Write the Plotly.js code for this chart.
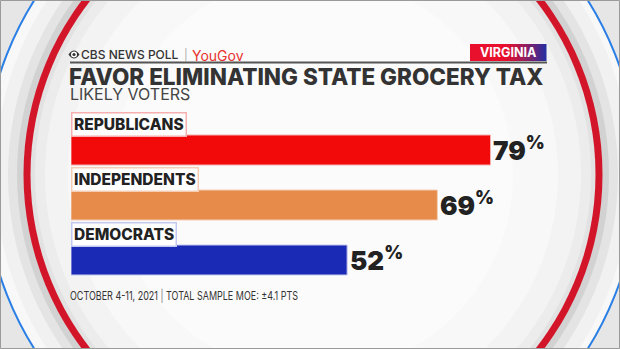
<!DOCTYPE html>
<html>
<head>
<meta charset="utf-8">
<script src="https://cdn.plot.ly/plotly-3.0.1.min.js"></script>
<style>
html,body{margin:0;padding:0;background:#fff;}
#chart{width:620px;height:349px;}
</style>
</head>
<body>
<div id="chart"></div>
<script>
// ---- data ----
const categories = ["REPUBLICANS", "INDEPENDENTS", "DEMOCRATS"];
const values = [79, 69, 52];
const barColors = ["#f20a0a", "#e68b4a", "#1a2ab5"];
const edgeColors = ["#f6b0b0", "#f4cdb5", "#c3c8f0"];
const title = "FAVOR ELIMINATING STATE GROCERY TAX";
const subtitle = "LIKELY VOTERS";
const footerDate = "OCTOBER 4-11, 2021";
const footerMoe = "TOTAL SAMPLE MOE: ±4.1 PTS";
const stateLabel = "VIRGINIA";

// ---- helpers: pixel -> paper ----
const W = 620, H = 349;
const px = x => x / W;
const py = y => 1 - y / H;

const shapes = [];
function circle(cx, cy, r, fill, lineColor, lineWidth) {
  shapes.push({type: "circle", xref: "paper", yref: "paper", layer: "below",
    x0: px(cx - r), x1: px(cx + r), y0: py(cy + r), y1: py(cy - r),
    fillcolor: fill, line: {color: lineColor || "rgba(0,0,0,0)", width: lineWidth || 0}});
}
function rect(x0, y0, x1, y1, fill, lineColor, lineWidth, layer) {
  shapes.push({type: "rect", xref: "paper", yref: "paper", layer: layer || "below",
    x0: px(x0), x1: px(x1), y0: py(y1), y1: py(y0),
    fillcolor: fill, line: {color: lineColor || "rgba(0,0,0,0)", width: lineWidth || 0}});
}

// background rings
rect(0, 0, W, H, "#e6e6e6");
circle(311, 174.5, 327, "#f8f8f8", "#2a7fe6", 2);
circle(313, 174.5, 318, "#f1f1f1");
circle(313, 174.5, 305, "#e4e4e4");
circle(313, 174.5, 296, "#d2d2d2");
circle(313, 174.5, 289.5, "#d3152a");
circle(313, 174.5, 282.5, "#e2e2e2");
circle(313, 174.5, 278, "#ececec");
circle(313, 174.5, 268, "#f3f3f3");
circle(313, 174.5, 245, "#f8f8f8");
circle(313, 174.5, 200, "#fbfbfb");

// header rule
shapes.push({type: "line", xref: "paper", yref: "paper", layer: "above",
  x0: px(70), x1: px(547), y0: py(62.5), y1: py(62.5), line: {color: "#555", width: 2}});

// state label gradient box (red -> blue)
function mix(a, b, t) {
  const pa = [parseInt(a.slice(1,3),16), parseInt(a.slice(3,5),16), parseInt(a.slice(5,7),16)];
  const pb = [parseInt(b.slice(1,3),16), parseInt(b.slice(3,5),16), parseInt(b.slice(5,7),16)];
  return "rgb(" + pa.map((v, i) => Math.round(v + (pb[i] - v) * t)).join(",") + ")";
}
const boxX0 = 470, boxX1 = 546, steps = 38;
for (let i = 0; i < steps; i++) {
  const t = i / (steps - 1);
  const k = t < 0.45 ? 0 : Math.pow((t - 0.45) / 0.55, 1.2);
  const xa = boxX0 + (boxX1 - boxX0) * i / steps;
  const xb = boxX0 + (boxX1 - boxX0) * (i + 1) / steps + 0.5;
  rect(xa, 44, xb, 61, mix("#e8102c", "#2a2e9e", k), null, 0, "above");
}

// CBS eye
const eye = `M${px(68.5)},${py(54.5)} Q${px(74)},${py(46.5)} ${px(79.5)},${py(54.5)} Q${px(74)},${py(62.5)} ${px(68.5)},${py(54.5)}Z`;
shapes.push({type: "path", xref: "paper", yref: "paper", layer: "above", path: eye, fillcolor: "#333", line: {width: 0}});
shapes.push({type: "circle", xref: "paper", yref: "paper", layer: "above",
  x0: px(71), x1: px(77), y0: py(57.5), y1: py(51.5), fillcolor: "#fff", line: {width: 0}});
shapes.push({type: "circle", xref: "paper", yref: "paper", layer: "above",
  x0: px(72.4), x1: px(75.6), y0: py(56.1), y1: py(52.9), fillcolor: "#333", line: {width: 0}});

// outer frame
rect(0.5, 0.5, W - 0.5, H - 0.5, "rgba(0,0,0,0)", "#9a9a9a", 1, "above");

// ---- annotations ----
const FONT = "Inter, 'Open Sans', sans-serif";
const annotations = [];
function ptext(x, y, text, size, color, weight, extra) {
  annotations.push(Object.assign({xref: "paper", yref: "paper", x: px(x), y: py(y),
    xanchor: "left", yanchor: "middle", showarrow: false, text: text,
    font: {family: FONT, size: size, color: color, weight: weight}}, extra || {}));
}
ptext(79, 54.5, "CBS NEWS POLL", 12, "#333", 500);
ptext(182, 54.5, "|", 11, "#aaa", 400);
ptext(190, 55, "YouGov", 14, "#e8322e", 400);
ptext(508, 52.5, stateLabel, 12.5, "#fff", 700, {xanchor: "center"});
ptext(67, 76, title, 22.5, "#333", 800);
ptext(68, 94, subtitle, 16, "#444", 400);
ptext(68, 295, footerDate, 12, "#333", 400);
ptext(158, 295, "|", 12, "#999", 400);
ptext(164, 295, footerMoe, 12, "#333", 400);

categories.forEach((c, i) => {
  annotations.push({xref: "x", yref: "y", x: 0, y: c, xanchor: "left", yanchor: "middle",
    yshift: 25.5, showarrow: false, text: c, bgcolor: "#ffffff", bordercolor: edgeColors[i],
    borderwidth: 1.5, borderpad: 1.5, font: {family: FONT, size: 15.5, color: "#222", weight: 800}});
  annotations.push({xref: "x", yref: "y", x: values[i], y: c, xanchor: "left", yanchor: "middle",
    xshift: 1, yshift: 2, showarrow: false, text: values[i] + "<sup>%</sup>",
    font: {family: FONT, size: 26, color: "#222", weight: 900}});
});

const trace = {
  type: "bar", orientation: "h", x: values, y: categories,
  width: 0.545,
  marker: {color: barColors, line: {color: edgeColors, width: 1}},
  hoverinfo: "skip"
};

const layout = {
  width: W, height: H,
  margin: {l: 0, r: 0, t: 0, b: 0},
  paper_bgcolor: "#e6e6e6", plot_bgcolor: "rgba(0,0,0,0)",
  showlegend: false,
  xaxis: {range: [0, 100], domain: [px(71), px(602)], visible: false, fixedrange: true},
  yaxis: {type: "category", categoryarray: categories, range: [2.5, -0.5],
    domain: [py(287.5), py(122.5)], visible: false, fixedrange: true},
  shapes: shapes,
  annotations: annotations
};

// condensed footer: fit the footer texts to the reference widths, keeping left edges
const condensed = {};
condensed[footerDate] = 88;
condensed[footerMoe] = 132;

Plotly.newPlot("chart", [trace], layout, {staticPlot: true, displayModeBar: false}).then(gd => {
  gd.querySelectorAll("text.annotation-text").forEach(t => {
    const w = condensed[t.textContent];
    if (w) {
      const bb = t.getBBox();
      t.setAttribute("text-anchor", "start");
      t.setAttribute("x", bb.x);
      t.setAttribute("textLength", w);
      t.setAttribute("lengthAdjust", "spacingAndGlyphs");
    }
  });
});
</script>
</body>
</html>
